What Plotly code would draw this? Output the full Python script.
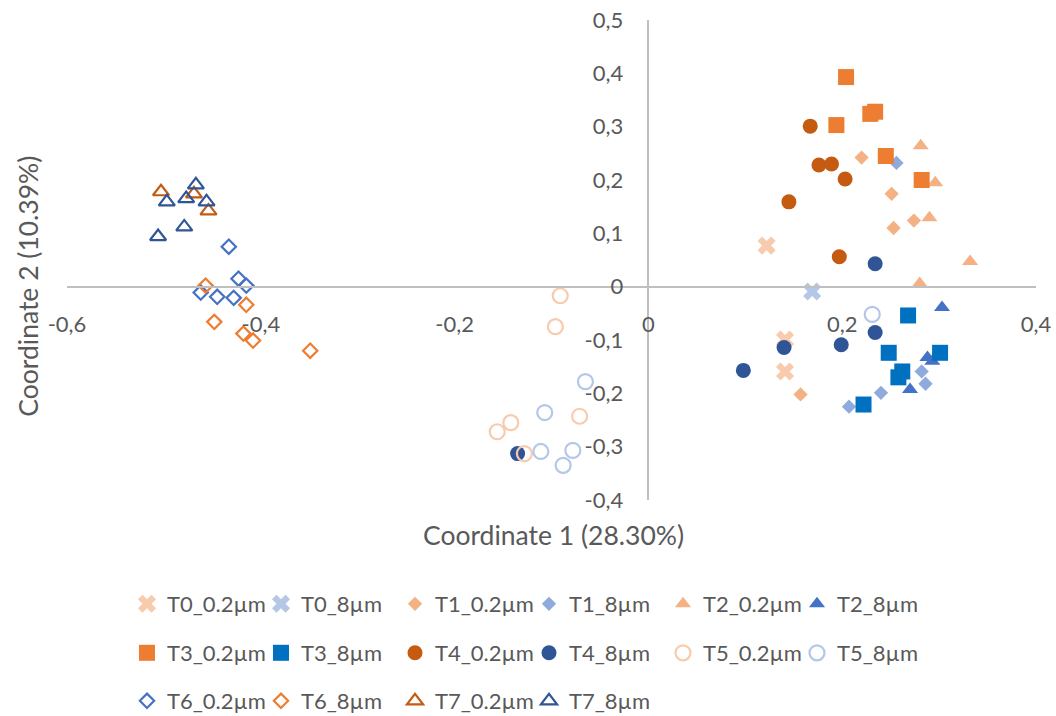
import plotly.graph_objects as go

# PCoA coordinates per sample group (Coordinate 1, Coordinate 2)
t0_02_x = [0.122, 0.141, 0.141]
t0_02_y = [0.077, -0.099, -0.159]
t0_8_x = [0.169]
t0_8_y = [-0.009]

t1_02_x = [0.220, 0.251, 0.253, 0.274, 0.157]
t1_02_y = [0.242, 0.174, 0.110, 0.124, -0.202]
t1_8_x = [0.256, 0.207, 0.240, 0.282, 0.286]
t1_8_y = [0.232, -0.225, -0.199, -0.159, -0.182]

t2_02_x = [0.281, 0.296, 0.290, 0.332, 0.280]
t2_02_y = [0.264, 0.195, 0.129, 0.047, 0.006]
t2_8_x = [0.303, 0.288, 0.293, 0.270]
t2_8_y = [-0.039, -0.133, -0.140, -0.193]

t3_02_x = [0.204, 0.234, 0.229, 0.194, 0.245, 0.282]
t3_02_y = [0.393, 0.328, 0.324, 0.303, 0.245, 0.200]
t3_8_x = [0.268, 0.248, 0.301, 0.262, 0.258, 0.222]
t3_8_y = [-0.054, -0.124, -0.124, -0.159, -0.170, -0.221]

t4_02_x = [0.167, 0.176, 0.189, 0.203, 0.145, 0.197]
t4_02_y = [0.301, 0.228, 0.230, 0.202, 0.159, 0.056]
t4_8_x = [0.234, 0.234, 0.199, 0.140, 0.098, -0.135]
t4_8_y = [0.043, -0.086, -0.109, -0.114, -0.157, -0.313]

t5_02_x = [-0.091, -0.096, -0.071, -0.142, -0.156, -0.128]
t5_02_y = [-0.017, -0.075, -0.243, -0.255, -0.272, -0.313]
t5_8_x = [-0.065, -0.107, -0.111, -0.078, -0.088, 0.231]
t5_8_y = [-0.178, -0.236, -0.309, -0.307, -0.335, -0.052]

t6_02_x = [-0.433, -0.423, -0.415, -0.462, -0.445, -0.428]
t6_02_y = [0.075, 0.015, 0.002, -0.011, -0.019, -0.021]
t6_8_x = [-0.457, -0.415, -0.448, -0.418, -0.408, -0.349]
t6_8_y = [0.002, -0.034, -0.066, -0.088, -0.101, -0.120]

t7_02_x = [-0.503, -0.469, -0.454]
t7_02_y = [0.178, 0.174, 0.142]
t7_8_x = [-0.467, -0.497, -0.477, -0.456, -0.479, -0.506]
t7_8_y = [0.191, 0.159, 0.165, 0.159, 0.112, 0.094]

axis_ticks_x = [-0.6, -0.4, -0.2, 0, 0.2, 0.4]
axis_labels_x = ["-0,6", "-0,4", "-0,2", "0", "0,2", "0,4"]
axis_ticks_y = [-0.4, -0.3, -0.2, -0.1, 0, 0.1, 0.2, 0.3, 0.4, 0.5]
axis_labels_y = ["-0,4", "-0,3", "-0,2", "-0,1", "0", "0,1", "0,2", "0,3", "0,4", "0,5"]

FONT = "Lato"
GREY = "#595959"

# (name, x, y, symbol, size, color, legend row)
series = [
    ("T0_0.2µm", t0_02_x, t0_02_y, "x", 16, "#F8CBAD", "legend"),
    ("T0_8µm", t0_8_x, t0_8_y, "x", 16, "#B4C7E7", "legend"),
    ("T1_0.2µm", t1_02_x, t1_02_y, "diamond", 11, "#F4B183", "legend"),
    ("T1_8µm", t1_8_x, t1_8_y, "diamond", 11, "#8FAADC", "legend"),
    ("T2_0.2µm", t2_02_x, t2_02_y, "triangle-up", 14, "#F4B183", "legend"),
    ("T2_8µm", t2_8_x, t2_8_y, "triangle-up", 14, "#4472C4", "legend"),
    ("T3_0.2µm", t3_02_x, t3_02_y, "square", 16, "#ED7D31", "legend2"),
    ("T3_8µm", t3_8_x, t3_8_y, "square", 16, "#0070C0", "legend2"),
    ("T4_0.2µm", t4_02_x, t4_02_y, "circle", 15, "#C55A11", "legend2"),
    ("T4_8µm", t4_8_x, t4_8_y, "circle", 15, "#2F5597", "legend2"),
    ("T5_0.2µm", t5_02_x, t5_02_y, "circle-open", 15, "#F8CBAD", "legend2"),
    ("T5_8µm", t5_8_x, t5_8_y, "circle-open", 15, "#B4C7E7", "legend2"),
    ("T6_0.2µm", t6_02_x, t6_02_y, "diamond-open", 11, "#4472C4", "legend3"),
    ("T6_8µm", t6_8_x, t6_8_y, "diamond-open", 11, "#ED7D31", "legend3"),
    ("T7_0.2µm", t7_02_x, t7_02_y, "triangle-up-open", 14, "#C55A11", "legend3"),
    ("T7_8µm", t7_8_x, t7_8_y, "triangle-up-open", 14, "#2F5597", "legend3"),
]

fig = go.Figure()
for name, xs, ys, sym, size, color, leg in series:
    is_open = sym.endswith("open")
    fig.add_trace(go.Scatter(
        x=xs, y=ys, mode="markers", name=name, legend=leg,
        marker=dict(symbol=sym, size=size, color=color,
                    line=dict(color=color, width=2.2 if is_open else 0)),
    ))

W, H = 1056, 716
ML, MR, MT, MB = 67, 20, 20, 216
plot_w = W - ML - MR
plot_h = H - MT - MB


def row_y(py):
    return -(py - (H - MB)) / plot_h


legend_style = dict(orientation="h", xanchor="left", yanchor="middle",
                    x=(127 - ML) / plot_w,
                    entrywidth=89, entrywidthmode="pixels",
                    font=dict(family=FONT, size=22, color=GREY),
                    bgcolor="rgba(0,0,0,0)", itemsizing="trace")

fig.update_layout(
    width=W, height=H,
    margin=dict(l=ML, r=MR, t=MT, b=MB, autoexpand=False),
    paper_bgcolor="white", plot_bgcolor="white",
    font=dict(family=FONT, color=GREY),
    legend=dict(legend_style, y=row_y(604)),
    legend2=dict(legend_style, y=row_y(653)),
    legend3=dict(legend_style, y=row_y(701)),
    xaxis=dict(range=[-0.6, 0.4], anchor="free", position=0.4 / 0.9,
               showline=True, linecolor="#BFBFBF", linewidth=1.5,
               showgrid=False, zeroline=False, ticks="",
               tickvals=axis_ticks_x, ticktext=axis_labels_x,
               ticklabelstandoff=18,
               tickfont=dict(family=FONT, size=22, color=GREY)),
    yaxis=dict(range=[-0.4, 0.5], anchor="free", position=0.6,
               showline=True, linecolor="#BFBFBF", linewidth=1.5,
               showgrid=False, zeroline=False, ticks="",
               tickvals=axis_ticks_y, ticktext=axis_labels_y,
               ticklabelstandoff=20,
               tickfont=dict(family=FONT, size=22, color=GREY)),
    annotations=[
        dict(text="Coordinate 1 (28.30%)", xref="paper", yref="paper",
             x=(553 - ML) / plot_w, y=row_y(535), showarrow=False,
             xanchor="center", yanchor="middle",
             font=dict(family=FONT, size=26.5, color=GREY)),
        dict(text="Coordinate 2 (10.39%)", xref="paper", yref="paper",
             x=(28 - ML) / plot_w, y=0.4 / 0.9, showarrow=False,
             textangle=-90, xanchor="center", yanchor="middle",
             font=dict(family=FONT, size=26.5, color=GREY)),
    ],
)

fig.write_html("out.html")
